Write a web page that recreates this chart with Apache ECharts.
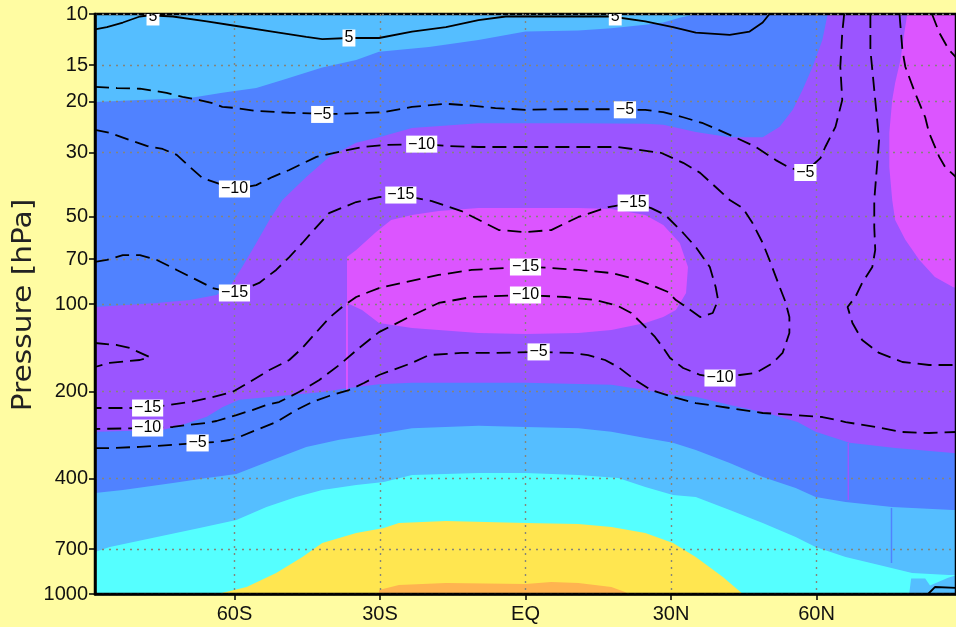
<!DOCTYPE html>
<html><head><meta charset="utf-8">
<script src="https://cdn.jsdelivr.net/npm/echarts@6/dist/echarts.min.js"></script>
<style>html,body{margin:0;padding:0;background:#FFFCA2;}#c{width:956px;height:627px;}</style>
</head><body><div id="c"></div>
<script>
// ---------- axes ----------
const LAT_MIN = -88.75, LAT_MAX = 88.75;
const P_TOP = 10, P_BOT = 1000;
const xTicks = [-60, -30, 0, 30, 60];
const xTickLabels = ['60S', '30S', 'EQ', '30N', '60N'];
const yTicks = [10, 15, 20, 30, 50, 70, 100, 200, 400, 700, 1000];

// ---------- shaded regions: [latitude, pressure hPa] ----------
const regionBlueBase = [[-88.75,10],[88.75,10],[88.75,1000],[-88.75,1000]];
const regionLightBlueTop = [[-88.75,10],[35.1,10],[31.8,10.3],[28.4,10.7],[24.7,10.9],[17.7,11.2],[10.9,11.4],[0,11.5],[-9.7,12.3],[-19.9,13.0],[-30.2,13.5],[-34.9,14.4],[-41.9,15.3],[-50.1,16.9],[-55.5,18.0],[-62.5,18.7],[-69.2,19.5],[-79.5,19.8],[-88.75,20.1]];
const regionPurple = [[-88.75,102.4],[-76.0,99.2],[-69.2,96.9],[-63.7,93.1],[-61.0,87.4],[-58.4,74.5],[-55.5,61.6],[-52.8,51.3],[-50.1,43.8],[-45.2,36.5],[-40.5,31.1],[-34.9,27.8],[-30.2,26.6],[-23.4,24.7],[-9.7,23.8],[0,23.8],[10.9,23.8],[24.7,23.9],[28.4,24.1],[35.1,25.5],[42.1,26.6],[48.9,26.6],[52.4,24.5],[55.1,21.4],[57.1,18.3],[59.2,15.2],[61.2,12.3],[62.3,10],[88.75,10],[88.75,327],[76.2,314],[66.8,301],[59.8,276],[56.1,255],[49.9,238],[42.1,223],[35.1,209],[30.4,206],[24.7,198],[17.7,190],[0,187],[-23.4,187],[-30.2,189],[-36.4,195],[-41.9,201],[-52.2,209],[-59.0,214],[-62.5,227],[-65.7,245],[-70.7,261],[-74.8,272],[-88.75,276]];
const regionMagentaNorth = [[78.7,10],[78.1,11.6],[77.3,14.4],[76.2,17.3],[75.6,19.8],[75.0,25.7],[75.0,33.7],[75.6,43.8],[76.2,51.3],[78.3,60.1],[81.2,70.5],[84.4,80.7],[88.1,87.4],[88.75,88],[88.75,10]];
const regionMagentaTropics = [[-36.8,68.9],[-34.9,65.1],[-30.8,56.5],[-27.7,51.3],[-23.4,49.3],[-17.9,47.8],[-9.7,46.7],[0,46.7],[10.9,46.7],[17.7,47.0],[24.7,49.3],[28.4,53.4],[31.8,61.6],[33.5,74.5],[33.1,91.6],[31.0,104.9],[28.4,110.9],[24.7,116.3],[17.7,122.9],[10.9,125.9],[0,126.9],[-9.7,125.9],[-23.4,121],[-30.2,116.3],[-33.7,104.9],[-36.8,99.2]];
const regionLightBlueLow = [[-88.75,448.5],[-83.0,438],[-72.7,414],[-65.7,398],[-59.6,386],[-52.2,345],[-45.2,311],[-38.4,294],[-29.2,278.5],[-23.4,268],[-9.7,263],[0,265.5],[10.9,268],[17.7,276],[24.7,290],[30.4,301],[35.1,319],[42.1,353.5],[48.9,395],[55.7,431],[59.8,463],[66.0,482],[75.6,501],[88.1,513],[88.75,513],[88.75,1000],[-88.75,1000]];
const regionCyan = [[-88.75,716],[-85.7,688],[-76.0,636],[-67.2,592],[-59.6,556],[-53.4,501],[-47.3,463],[-41.9,438],[-34.9,421],[-29.2,411],[-23.4,389],[-9.7,382.6],[0,382.6],[10.9,389],[19.1,398],[24.7,428],[30.4,456],[35.1,463],[42.1,513],[48.9,569],[55.7,636],[59.8,688],[66.0,746],[72.9,794],[79.7,847],[87.3,860],[88.75,860],[88.75,1000],[-88.75,1000]];
const regionLightBlueBump = [[79.1,1000],[79.5,885],[82.4,885],[83.4,935],[87.0,880],[88.75,862],[88.75,1000]];
const regionYellow = [[-63.5,1000],[-57.5,946],[-51.4,847],[-46.0,745.6],[-41.9,667],[-34.9,616],[-29.2,592],[-26.1,569],[-16.4,560],[0,569],[10.9,573.6],[17.7,587],[24.7,616],[30.4,667],[35.1,745.6],[40.7,874],[44.8,1000]];
const regionOrange = [[-30.2,1000],[-30.2,969],[-26.1,931],[-16.4,916],[0,923],[5.3,909],[10.9,916],[17.7,946],[20.5,984],[21.2,1000]];
const stripeMagenta = [[-37.0,99],[-36.6,99],[-36.6,198],[-37.0,198]];
const stripePurple = [[66.4,301],[66.7,301],[66.7,474],[66.4,474]];
const stripeBlue = [[75.3,505],[75.6,505],[75.6,782],[75.3,782]];

const fillLayers = [regionBlueBase, regionLightBlueTop, regionPurple, regionMagentaNorth, regionMagentaTropics,
  regionLightBlueLow, regionCyan, regionLightBlueBump, regionYellow, regionOrange, stripeMagenta, stripePurple, stripeBlue];
const fillColors = ['#5082FF', '#55BEFF', '#9B55FF', '#DC55FF', '#DC55FF',
  '#55BEFF', '#55FFFF', '#55BEFF', '#FFE650', '#FFB450', '#DC55FF', '#9B55FF', '#5082FF'];

// ---------- contour lines: [latitude, pressure hPa] ----------
const contourPos5 = [[-88.75,11.3],[-86.3,11.1],[-83.0,10.7],[-79.5,10.2],[-77.5,10.1],[-72.7,10.2],[-65.7,10.6],[-59.6,11.0],[-52.2,11.5],[-45.2,12.0],[-41.9,12.2],[-36.4,12.1],[-30.2,12.1],[-23.4,11.5],[-16.4,11.1],[-9.7,10.5],[-4.1,10.2],[0,10.2],[7.4,10.2],[17.7,10.2],[24.7,10.6],[30.4,11.1],[35.1,11.6],[42.1,11.8],[46.2,11.5],[48.9,10.7],[50.3,10]];
const contourPos5Surface = [[83.0,1000],[84.4,946],[88.75,953]];
const contourNeg5Upper = [[-88.75,17.85],[-84.2,18.0],[-79.5,18.1],[-74.0,18.7],[-70.7,19.3],[-67.2,19.8],[-64.5,20.3],[-62.5,20.9],[-59.6,21.1],[-55.5,21.6],[-48.7,21.9],[-42.1,22.1],[-38.4,22.1],[-29.2,21.8],[-23.4,20.9],[-16.4,20.4],[-11.1,20.7],[-6.2,21.1],[0,21.4],[7.4,21.3],[17.7,21.3],[20.5,21.4],[24.7,21.4],[28.4,21.8],[32.5,22.7],[36.6,23.8],[42.1,26.1],[47.5,28.75],[51.6,31.9],[54.4,33.9],[57.7,35.0],[60.8,31.4],[61.8,28.75],[63.9,24.5],[65.3,19.8],[64.9,15.2],[65.3,11.6],[65.7,10]];
const contourNeg5Lower = [[-88.75,313.8],[-85.7,313.8],[-79.5,311],[-72.7,306],[-67.6,301.4],[-63.7,299],[-61.0,294.4],[-59.0,287.5],[-55.5,272],[-51.4,255.3],[-47.3,232.1],[-44.0,217.8],[-40.5,207.6],[-36.4,198],[-33.3,187.3],[-30.2,175.7],[-23.4,159.7],[-19.9,150],[-13.2,147.5],[-6.2,147.5],[2.7,146.3],[9.5,147.5],[12.9,150],[16.4,156],[19.1,164.9],[22.6,182.8],[25.9,198],[30.4,209.3],[35.1,219.5],[42.1,228.4],[48.9,237.6],[55.7,241.5],[61.2,245.3],[66.0,255.3],[72.1,265.5],[77.7,276.3],[83.2,278.5],[88.75,276.3]];
const contourNeg10 = [[-88.75,25.1],[-85.7,25.7],[-81.6,27.2],[-78.1,28.5],[-74.8,29.2],[-71.9,30.6],[-69.2,33.7],[-66.6,36.8],[-60.0,40.1],[-55.5,38.9],[-52.2,36.5],[-48.7,34.5],[-43.1,31.1],[-38.4,29.9],[-33.7,28.75],[-29.2,28.3],[-21.4,28.1],[-16.4,28.5],[-9.7,28.75],[0,28.75],[10.9,28.75],[19.1,28.75],[23.2,29.4],[27.9,30.1],[32.5,32.6],[36.0,35.3],[39.2,39.5],[42.1,43.8],[44.8,46.7],[46.8,52.6],[48.9,61.6],[50.3,70.5],[52.4,87.4],[53.6,98.4],[54.4,110.9],[54.4,125.9],[53.0,147.5],[51.0,159.7],[47.5,172.9],[44.2,175.7],[40.1,180.0],[36.0,175.7],[32.5,166.2],[29.8,153.5],[28.4,141.8],[26.7,129.9],[24.7,120.0],[21.8,107.4],[19.1,101.6],[14.4,96.9],[8.2,94.6],[0,93.1],[-11.1,94.6],[-17.9,99.2],[-24.0,110.9],[-30.2,125],[-34.3,141.8],[-38.4,162.3],[-42.5,182.8],[-46.6,200.8],[-50.8,217.8],[-53.4,222.9],[-56.3,232.1],[-59.6,241.5],[-63.7,253.2],[-65.7,257.2],[-69.9,261.3],[-72.7,265.5],[-77.9,267.7],[-88.75,269.8]];
const contourNeg10North = [[71.1,10],[71.1,13.3],[72.1,19.8],[72.9,27.2],[71.9,43.8],[71.9,54.3],[72.1,65.1],[71.5,74.5],[69.4,84.6],[68.0,94.6],[66.4,102.4],[67.4,116.3],[69.4,133.1],[72.9,147.5],[77.7,158.5],[83.2,162.3],[88.75,162.3]];
const contourNeg15 = [[-88.75,71.6],[-86.3,70.5],[-83.0,67.8],[-79.5,67.8],[-76.0,70.5],[-71.9,76.3],[-67.8,82.6],[-64.5,88.1],[-60.0,91.6],[-54.9,84.6],[-51.4,76.3],[-48.7,68.9],[-46.0,61.6],[-43.1,54.3],[-40.5,48.6],[-34.9,44.5],[-30.2,42.8],[-25.7,42.1],[-19.3,44.15],[-13.2,47.8],[-5.5,55.6],[0,56.5],[5.3,55.6],[10.9,50.1],[17.1,46.3],[22.2,44.85],[25.9,46.7],[28.8,49.3],[32.5,56.9],[35.1,63.6],[38.0,74.5],[39.2,87.4],[39.7,96.9],[38.6,107.4],[36.0,110.9],[33.1,102.4],[31.0,96.9],[29.4,90.9],[25.9,86.0],[21.8,81.3],[17.7,78.2],[10.9,76.3],[5.3,75.1],[0,74.5],[-11.1,76.3],[-17.9,79.4],[-24.7,84.0],[-30.2,88.1],[-32.3,90.9],[-34.9,94.6],[-37.8,102.4],[-40.5,111.8],[-43.1,125],[-46.0,141.8],[-48.7,156],[-52.8,168.9],[-56.9,185.8],[-60.4,201],[-64.5,209.3],[-69.2,217.8],[-73.4,222.9],[-77.9,228.4],[-88.75,228.4]];
const contourNeg15North = [[77.1,10],[77.7,13.3],[78.3,15.2],[80.3,18.7],[82.4,22.7],[83.2,25.7],[85.3,31.1],[86.5,33.7],[88.75,36.5]];
const contourNeg20North = [[83.8,10],[85.3,11.6],[87.3,13.3],[88.75,14.1]];
const contourNeg20South = [[-88.75,136.3],[-84.2,138.5],[-81.6,141.8],[-77.5,152.3],[-79.5,156],[-85.7,159.7],[-88.75,164.9]];

const solidContours = [contourPos5, contourPos5Surface];
const dashedContours = [contourNeg5Upper, contourNeg5Lower, contourNeg10, contourNeg10North, contourNeg15, contourNeg15North, contourNeg20North, contourNeg20South];

// ---------- contour labels ----------
const labelPoints = [[-76.8,10.24],[-36.4,12.1],[18.5,10.24],
  [-41.9,22.2],[20.5,21.4],[57.7,35.2],[2.7,146.3],[-67.6,301.4],
  [-60.0,40.1],[-21.4,28.1],[0,93.1],[40.1,180.0],[-77.9,267.7],
  [-77.9,228.4],[-60.0,91.6],[-25.7,42.1],[22.2,44.85],[0,74.5]];
const labelTexts = ['5','5','5',
  '\u22125','\u22125','\u22125','\u22125','\u22125',
  '\u221210','\u221210','\u221210','\u221210','\u221210',
  '\u221215','\u221215','\u221215','\u221215','\u221215'];

// ---------- build ----------
const chart = echarts.init(document.getElementById('c'), null, {renderer: 'canvas'});
const series = [];
series.push({
  type: 'custom', z: 1, clip: true, silent: true,
  data: fillLayers.map(r => r[0]),
  renderItem: (params, api) => {
    const pts = fillLayers[params.dataIndex].map(p => api.coord(p));
    return {type: 'polygon', shape: {points: pts}, style: {fill: fillColors[params.dataIndex], stroke: null}};
  }
});
solidContours.forEach(c => series.push({
  type: 'line', data: c, z: 5, showSymbol: false, symbol: 'none', clip: true, silent: true,
  lineStyle: {color: '#000', width: 1.8, type: 'solid'}
}));
dashedContours.forEach(c => series.push({
  type: 'line', data: c, z: 5, showSymbol: false, symbol: 'none', clip: true, silent: true,
  lineStyle: {color: '#000', width: 1.8, type: [14, 7]}
}));
series.push({
  type: 'custom', z: 7, clip: true, silent: true,
  data: labelPoints,
  renderItem: (params, api) => {
    const pt = api.coord([api.value(0), api.value(1)]);
    return {type: 'text', x: pt[0], y: pt[1], style: {
      text: labelTexts[params.dataIndex], fill: '#000', font: '16px "Liberation Sans"',
      align: 'center', verticalAlign: 'middle', backgroundColor: '#fff', padding: [1, 2, 0, 2]}};
  }
});

const gridLine = {show: true, lineStyle: {color: '#85857a', width: 1.4, type: [2, 5]}};
chart.setOption({
  backgroundColor: '#FFFCA2',
  animation: false,
  grid: {left: 95, top: 14, width: 864, height: 580, show: true, borderColor: '#000', borderWidth: 2.5, backgroundColor: 'transparent', z: 3},
  xAxis: {
    type: 'value', min: LAT_MIN, max: LAT_MAX, z: 3,
    axisLine: {show: true, onZero: false, lineStyle: {color: '#000', width: 2.5}},
    axisTick: {show: true, customValues: xTicks, length: 6, lineStyle: {color: '#000', width: 1.5}},
    axisLabel: {customValues: xTicks, formatter: v => xTickLabels[xTicks.indexOf(v)], color: '#111', fontSize: 20, fontFamily: '"Liberation Sans"', margin: 10},
    splitLine: gridLine
  },
  yAxis: {
    type: 'log', logBase: 10, min: P_TOP, max: P_BOT, inverse: true, z: 3,
    axisLine: {show: true, onZero: false, lineStyle: {color: '#000', width: 2.5}},
    axisTick: {show: true, customValues: yTicks, length: 6, lineStyle: {color: '#000', width: 1.5}},
    axisLabel: {customValues: yTicks, formatter: v => String(Math.round(v)), color: '#111', fontSize: 20, fontFamily: '"Liberation Sans"', margin: 7},
    splitLine: gridLine
  },
  graphic: [{type: 'text', x: 24, y: 305, rotation: Math.PI / 2, scaleX: 1.14, z: 10,
    style: {text: 'Pressure [hPa]', font: '26px "DejaVu Sans"', fill: '#222', align: 'center', verticalAlign: 'middle'}}],
  series: series
});
</script></body></html>
